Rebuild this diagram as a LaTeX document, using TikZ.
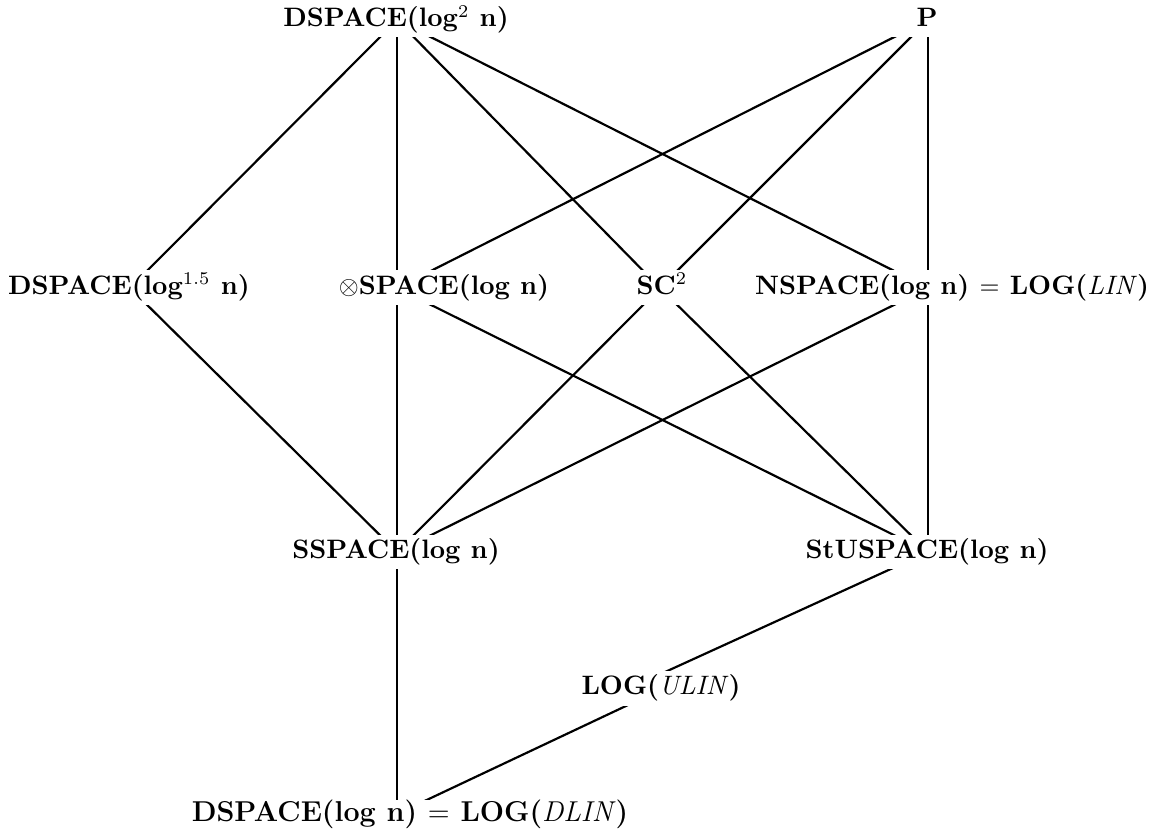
\documentclass[tikz,border=0pt]{standalone}
\usepackage{tikz}
\usetikzlibrary{calc}

\begin{document}
\begin{tikzpicture}[x=0.39pt, y=-0.39pt, font=\fontsize{10.4}{12.5}\selectfont\bfseries,
    lbl/.style={fill=white, inner xsep=0pt, inner ysep=0pt, text height=7.8pt, text depth=2.6pt},
    link/.style={line width=0.85pt}]
  \useasboundingbox (0,0) rectangle (1152,832);
  % points where the lines meet
  \coordinate (h-dsq) at (397,20);
  \coordinate (h-p) at (928,20);
  \coordinate (h-dsf) at (130,288);
  \coordinate (h-osp) at (397,288);
  \coordinate (h-sc) at (660,288);
  \coordinate (h-nsp) at (928,288);
  \coordinate (h-ssp) at (397,552);
  \coordinate (h-stu) at (928,552);
  \coordinate (h-ulin-a) at (630,688);
  \coordinate (h-ulin-b) at (664,688);
  \coordinate (h-dlin) at (397,814);
  % inclusions
  \draw[link] (h-dsq) -- (h-dsf);
  \draw[link] (h-dsq) -- (h-osp);
  \draw[link] (h-dsq) -- (h-sc);
  \draw[link] (h-dsq) -- (h-nsp);
  \draw[link] (h-p) -- (h-osp);
  \draw[link] (h-p) -- (h-sc);
  \draw[link] (h-p) -- (h-nsp);
  \draw[link] (h-dsf) -- (h-ssp);
  \draw[link] (h-osp) -- (h-ssp);
  \draw[link] (h-osp) -- (h-stu);
  \draw[link] (h-sc) -- (h-ssp);
  \draw[link] (h-sc) -- (h-stu);
  \draw[link] (h-nsp) -- (h-ssp);
  \draw[link] (h-nsp) -- (h-stu);
  \draw[link] (h-ssp) -- (h-dlin);
  \draw[link] (h-stu) -- (h-ulin-a);
  \draw[link] (h-ulin-b) -- (h-dlin);
  % classes
  \node[lbl, minimum height=13.3pt] (dsq) at (396,20) {DSPACE(log$^2$ n)};
  \node[lbl, minimum height=13.3pt, minimum width=35pt] (p) at (927,20) {P};
  \node[lbl, minimum height=13.65pt] (dsf) at (129,287.5) {DSPACE(log$^{1.5}$ n)};
  \node[lbl, minimum height=13.65pt] (osp) at (444,287.5) {$\otimes$SPACE(log n)};
  \node[lbl, minimum height=13.65pt, minimum width=18pt] (sc) at (662,287.5) {SC$^2$};
  \node[lbl, minimum height=13.65pt] (nsp) at (952,287.5) {NSPACE(log n) $=$ LOG(\textmd{\textit{LIN}})};
  \node[lbl, minimum height=13.3pt] (ssp) at (396,552) {SSPACE(log n)};
  \node[lbl, minimum height=13.3pt] (stu) at (927,552) {StUSPACE(log n)};
  \node[lbl, minimum height=13.65pt] (ulin) at (661,688) {LOG(\textmd{\textit{ULIN}})};
  \node[lbl, font=\fontsize{11.2}{13.4}\selectfont\bfseries, text height=8.4pt, text depth=2.8pt] (dlin) at (410,814) {DSPACE(log n) $=$ LOG(\textmd{\textit{DLIN}})};
\end{tikzpicture}
\end{document}
